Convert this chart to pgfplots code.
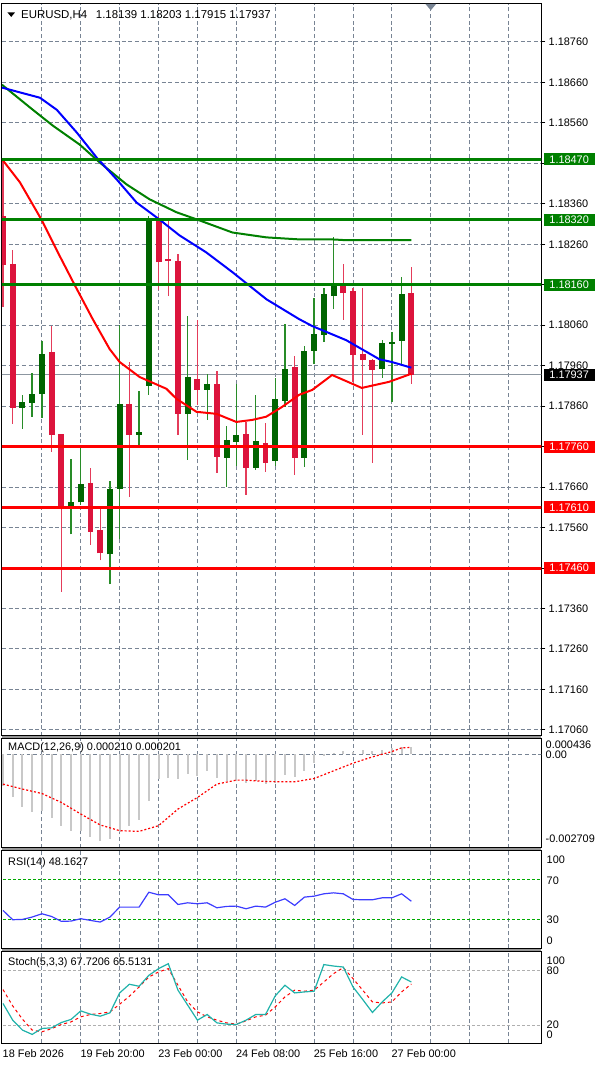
\documentclass[border=0pt]{standalone}
\usepackage{pgfplots}
\pgfplotsset{compat=1.18}
\usepackage{pgfplotstable}
\usepackage{fontspec}
\setmainfont{Liberation Sans}

\definecolor{bullbody}{RGB}{0,100,0}
\definecolor{bearbody}{RGB}{220,20,60}
\definecolor{bullwick}{RGB}{40,140,40}
\definecolor{bearwick}{RGB}{228,60,90}
\definecolor{lvlgreen}{RGB}{0,128,0}
\definecolor{lvlred}{RGB}{255,0,0}
\definecolor{gridc}{RGB}{120,132,148}
\definecolor{bidc}{RGB}{140,150,160}
\definecolor{maRed}{RGB}{255,0,0}
\definecolor{maBlue}{RGB}{0,0,255}
\definecolor{maGreen}{RGB}{0,128,0}
\definecolor{histc}{RGB}{200,200,200}
\definecolor{rsic}{RGB}{60,60,255}
\definecolor{stochc}{RGB}{32,178,170}
\definecolor{sepc}{RGB}{150,150,150}
\definecolor{lvl30}{RGB}{0,170,0}
\definecolor{stlvl}{RGB}{175,175,175}

\newcommand\mtf{\fontsize{8.2}{9.8}\selectfont}

% H4 candles, i = bar number from the left edge
\pgfplotstableread{
i  O       H       L       C
2  1.17856 1.17888 1.17804 1.17870
3  1.17868 1.17942 1.17834 1.17890
4  1.17890 1.18021 1.17831 1.17989
7  1.17612 1.17730 1.17543 1.17624
8  1.17622 1.17765 1.17617 1.17668
11 1.17494 1.17676 1.17420 1.17656
12 1.17656 1.18060 1.17533 1.17866
14 1.17789 1.17898 1.17760 1.17797
15 1.17910 1.18331 1.17888 1.18319
19 1.17841 1.18082 1.17728 1.17932
21 1.17900 1.17940 1.17826 1.17915
23 1.17732 1.17811 1.17661 1.17777
24 1.17772 1.17915 1.17713 1.17789
26 1.17708 1.17888 1.17703 1.17774
28 1.17725 1.17930 1.17713 1.17878
29 1.17873 1.18063 1.17858 1.17952
31 1.17732 1.18009 1.17710 1.17996
32 1.17996 1.18127 1.17964 1.18038
33 1.18036 1.18151 1.18018 1.18137
34 1.18132 1.18277 1.18100 1.18159
39 1.17952 1.18023 1.17930 1.18016
40 1.18013 1.18043 1.17871 1.18018
41 1.18021 1.18179 1.17962 1.18137
}\bulls

\pgfplotstableread{
i  O       H       L       C
0  1.18331 1.18467 1.18105 1.18208
1  1.18211 1.18245 1.17816 1.17856
5  1.17994 1.18058 1.17747 1.17789
6  1.17792 1.17792 1.17402 1.17607
9  1.17671 1.17708 1.17518 1.17550
10 1.17555 1.17607 1.17479 1.17496
13 1.17866 1.17969 1.17636 1.17789
16 1.18319 1.18331 1.18146 1.18215
17 1.18223 1.18321 1.18132 1.18218
18 1.18218 1.18235 1.17789 1.17841
20 1.17927 1.18073 1.17863 1.17900
22 1.17915 1.17947 1.17696 1.17735
25 1.17792 1.17821 1.17641 1.17708
27 1.17769 1.17819 1.17698 1.17720
30 1.17957 1.17984 1.17691 1.17732
35 1.18159 1.18211 1.18073 1.18139
36 1.18144 1.18151 1.17920 1.17986
37 1.17989 1.18151 1.17789 1.17974
38 1.17974 1.17976 1.17720 1.17949
42 1.18139 1.18203 1.17915 1.17937
}\bears

\pgfplotstableread{
i m
0 -0.000913
1 -0.001252
2 -0.001521
3 -0.001686
4 -0.001637
5 -0.001848
6 -0.002072
7 -0.002237
8 -0.002216
9 -0.002411
10 -0.002506
11 -0.002457
12 -0.002266
13 -0.002072
14 -0.001906
15 -0.001347
16 -0.000719
17 -0.000672
18 -0.000719
19 -0.000574
20 -0.000623
21 -0.000478
22 -0.000672
23 -0.000768
24 -0.000768
25 -0.000817
26 -0.000768
27 -0.000846
28 -0.000817
29 -0.000603
30 -0.000652
31 -0.000478
32 -0.000238
33 -0.000043
34 0.000052
35 0.000101
36 0.000081
37 0.000122
38 0.000101
39 0.000130
40 0.000180
41 0.000217
42 0.000210
}\macdhist

\pgfplotstableread{
i s
0 -0.000863
2 -0.001008
4 -0.001136
6 -0.001396
8 -0.001733
10 -0.002051
12 -0.002216
14 -0.002237
16 -0.002072
18 -0.001588
20 -0.001252
22 -0.000863
24 -0.000748
25 -0.000748
27 -0.000788
29 -0.000797
30 -0.000797
32 -0.000701
34 -0.000478
36 -0.000255
38 -0.000072
40 0.000081
41 0.000190
42 0.000201
}\macdsig

\pgfplotstableread{
i r
0 38.8
1 29.3
2 29.6
3 32.0
4 35.4
5 32.6
6 27.6
7 27.9
8 30.3
9 28.6
10 26.9
11 32.0
12 42.2
13 42.2
14 42.2
15 57.4
16 54.8
17 54.8
18 44.9
19 46.6
20 45.6
21 46.6
22 41.5
23 42.9
24 43.2
25 40.5
26 43.2
27 42.2
28 47.2
29 50.7
30 43.9
31 52.4
32 53.4
33 55.8
34 56.8
35 55.8
36 50.0
37 49.7
38 49.7
39 51.7
40 51.7
41 55.8
42 48.2
}\rsi

\pgfplotstableread{
i k d
0 43.9 59.3
1 25.4 41.2
2 14.4 26.5
3 9.6 14.4
4 16.2 12.5
5 16.9 16.0
6 22.8 20.6
7 26.2 23.5
8 35.7 29.1
9 32.0 31.7
10 29.8 32.8
11 33.5 34.6
12 55.6 43.1
13 65.2 51.9
14 63.0 62.2
15 75.1 73.3
16 82.5 78.8
17 88.0 82.5
18 58.6 64.1
19 42.0 45.6
20 25.4 34.6
21 31.7 29.1
22 22.4 25.4
23 21.0 22.4
24 20.6 21.0
25 25.4 24.6
26 31.7 29.1
27 31.7 30.9
28 52.3 40.1
29 64.1 51.2
30 55.6 58.6
31 56.7 57.5
32 57.5 58.6
33 87.0 67.7
34 85.4 77.0
35 84.3 83.6
36 62.2 71.5
37 48.3 58.6
38 33.9 45.6
39 45.6 44.5
40 55.6 45.6
41 73.3 56.7
42 67.7 65.5
}\stoch

\pgfplotsset{
  mtpanel/.style={
    scale only axis, width=405.75pt, anchor=north west,
    xmin=-0.1026, xmax=55.385,
    axis line style={black, line width=0.75pt},
    xtick={4,8,...,52}, xticklabels={}, xtick style={draw=none},
    xmajorgrids,
    grid style={gridc, line width=0.75pt, dash pattern=on 3pt off 2pt},
    ytick=\empty, scaled y ticks=false,
    tick label style={font=\mtf},
  },
  lvl/.style={line width=2.25pt, no marks, forget plot},
  wick/.style={draw=none, mark=none, forget plot,
    error bars/.cd, y dir=plus, y explicit, error mark=none,
    error bar style={draw=#1, line width=1pt, solid}},
  body/.style={draw=none, mark=none, forget plot,
    error bars/.cd, y dir=plus, y explicit, error mark=none,
    error bar style={draw=#1, line width=4.5pt, solid}},
}

\begin{document}
\begin{tikzpicture}
\begin{scope}[x=0.75pt,y=-0.75pt]
\path[use as bounding box] (0,0) rectangle (600,1065);
\fill[sepc] (2,735) rectangle (543,738);
\fill[sepc] (2,847) rectangle (543,850);
\fill[sepc] (2,948) rectangle (543,951);
\end{scope}

% ---------------- price panel ----------------
\begin{axis}[mtpanel, at={(1.5pt,-0.75pt)}, height=550.5pt,
  ymin=1.170452, ymax=1.188536,
  ytick={1.1706,1.1716,1.1726,1.1736,1.1746,1.1756,1.1766,1.1776,1.1786,1.1796,1.1806,1.1816,1.1826,1.1836,1.1846,1.1856,1.1866,1.1876},
  yticklabels={1.17060,1.17160,1.17260,1.17360,,1.17560,1.17660,,1.17860,1.17960,1.18060,,1.18260,1.18360,,1.18560,1.18660,1.18760},
  ymajorgrids, ytick pos=right, yticklabel pos=right,
  tick align=outside, major tick length=3pt,
  ytick style={black, line width=0.75pt},
  yticklabel style={anchor=west, inner sep=0pt, xshift=2.25pt},
]
\addplot[bidc, line width=0.75pt, no marks, forget plot] coordinates {(-1,1.17937) (56,1.17937)};

\addplot[wick=bullwick] table[x=i, y=L, y error plus expr=\thisrow{H}-\thisrow{L}] {\bulls};
\addplot[wick=bearwick] table[x=i, y=L, y error plus expr=\thisrow{H}-\thisrow{L}] {\bears};
\addplot[body=bullbody] table[x=i, y=O, y error plus expr=\thisrow{C}-\thisrow{O}] {\bulls};
\addplot[body=bearbody] table[x=i, y=C, y error plus expr=\thisrow{O}-\thisrow{C}] {\bears};

\addplot[maGreen, line width=1.5pt, no marks] coordinates {
(-0.1,1.18654) (3.08,1.18592) (5.13,1.18553) (7.9,1.18506) (9.95,1.18462)
(12.7,1.18408) (15.08,1.18371) (17.85,1.18339) (20.2,1.18319) (23.6,1.18289)
(27.08,1.18277) (30.46,1.18272) (33.85,1.18272) (35.3,1.18270) (42,1.18270)};
\addplot[maBlue, line width=1.5pt, no marks] coordinates {
(-0.1,1.18647) (3.8,1.18622) (5.54,1.18592) (7.59,1.18536) (9.64,1.18474)
(11.7,1.18420) (13.74,1.18363) (16.1,1.18321) (18.15,1.18282) (20.9,1.18240)
(23.6,1.18191) (27.1,1.18124) (30.46,1.18075) (31.8,1.18058) (35.3,1.18023)
(38.7,1.17976) (40,1.17969) (42,1.17955)};
\addplot[maRed, line width=1.5pt, no marks] coordinates {
(0,1.18467) (1.74,1.18413) (4,1.18319) (5.64,1.18240) (7.38,1.18159) (9.23,1.18075)
(10.97,1.18001) (12,1.17969) (14.05,1.17932) (16.8,1.17903) (17.85,1.17878)
(19.9,1.17846) (21.95,1.17841) (24,1.17821) (25.64,1.17826) (27.08,1.17834)
(28.7,1.17858) (30.46,1.17888) (31.8,1.17900) (33.85,1.17937) (36.9,1.17905)
(39.7,1.17920) (42,1.17940)};

\addplot[lvl, lvlgreen] coordinates {(-1,1.1847) (56,1.1847)};
\addplot[lvl, lvlgreen] coordinates {(-1,1.1832) (56,1.1832)};
\addplot[lvl, lvlgreen] coordinates {(-1,1.1816) (56,1.1816)};
\addplot[lvl, lvlred] coordinates {(-1,1.1776) (56,1.1776)};
\addplot[lvl, lvlred] coordinates {(-1,1.1761) (56,1.1761)};
\addplot[lvl, lvlred] coordinates {(-1,1.1746) (56,1.1746)};

\fill[gridc] (axis cs:43.45,1.188536) -- (axis cs:44.55,1.188536) -- (axis cs:44,1.18838) -- cycle;

\coordinate (p1) at (axis cs:55.385,1.1847);
\coordinate (p2) at (axis cs:55.385,1.1832);
\coordinate (p3) at (axis cs:55.385,1.1816);
\coordinate (p4) at (axis cs:55.385,1.17937);
\coordinate (p5) at (axis cs:55.385,1.1776);
\coordinate (p6) at (axis cs:55.385,1.1761);
\coordinate (p7) at (axis cs:55.385,1.1746);
\end{axis}

% ---------------- MACD ----------------
\begin{axis}[mtpanel, at={(1.5pt,-553.5pt)}, height=81.75pt,
  ymin=-0.002709, ymax=0.000449]
\addplot[gridc, line width=0.75pt, dash pattern=on 3pt off 2pt, no marks, forget plot] coordinates {(-1,0) (56,0)};
\addplot[ycomb, histc, line width=1.5pt, no marks] table[x=i, y=m] {\macdhist};
\addplot[red, line width=0.9pt, dash pattern=on 1.5pt off 1.5pt, no marks] table[x=i, y=s] {\macdsig};
\end{axis}

% ---------------- RSI ----------------
\begin{axis}[mtpanel, at={(1.5pt,-637.5pt)}, height=73.5pt,
  ymin=0, ymax=100]
\addplot[lvl30, line width=0.75pt, dash pattern=on 2.25pt off 1.5pt, no marks, forget plot] coordinates {(-1,70) (56,70)};
\addplot[lvl30, line width=0.75pt, dash pattern=on 2.25pt off 1.5pt, no marks, forget plot] coordinates {(-1,30) (56,30)};
\addplot[rsic, line width=0.9pt, no marks] table[x=i, y=r] {\rsi};
\end{axis}

% ---------------- Stochastic ----------------
\begin{axis}[mtpanel, at={(1.5pt,-713.25pt)}, height=69pt,
  ymin=0, ymax=101.7,
  xticklabels={,19 Feb 20:00,,23 Feb 00:00,,24 Feb 08:00,,25 Feb 16:00,,27 Feb 00:00,,,},
  extra x ticks={0}, extra x tick labels={18 Feb 2026},
  extra x tick style={grid=none},
  xticklabel style={anchor=north west, inner sep=0pt, yshift=-4.5pt, xshift=-0.4pt},
]
\addplot[stlvl, line width=0.75pt, dash pattern=on 2.25pt off 1.5pt, no marks, forget plot] coordinates {(-1,80) (56,80)};
\addplot[stlvl, line width=0.75pt, dash pattern=on 2.25pt off 1.5pt, no marks, forget plot] coordinates {(-1,20) (56,20)};
\addplot[red, line width=0.75pt, dash pattern=on 2.25pt off 2.25pt, no marks] table[x=i, y=d] {\stoch};
\addplot[stochc, line width=0.9pt, no marks] table[x=i, y=k] {\stoch};
\end{axis}

% ---------------- labels ----------------
\tikzset{pbox/.style={anchor=west, inner sep=0pt, minimum width=38.25pt, minimum height=9pt, text=white, font=\mtf}}
\node[pbox, fill=lvlgreen] at ([xshift=1.5pt]p1) {1.18470};
\node[pbox, fill=lvlgreen] at ([xshift=1.5pt]p2) {1.18320};
\node[pbox, fill=lvlgreen] at ([xshift=1.5pt]p3) {1.18160};
\node[pbox, fill=black] at ([xshift=1.5pt]p4) {1.17937};
\node[pbox, fill=lvlred] at ([xshift=1.5pt]p5) {1.17760};
\node[pbox, fill=lvlred] at ([xshift=1.5pt]p6) {1.17610};
\node[pbox, fill=lvlred] at ([xshift=1.5pt]p7) {1.17460};

\begin{scope}[x=0.75pt,y=-0.75pt, every node/.style={anchor=west, inner sep=0pt, font=\mtf}]
\fill[black] (7.5,9.5) -- (15,9.5) -- (11.25,14) -- cycle;
\node[font=\fontsize{8.6}{10}\selectfont] at (21,12) {EURUSD,H4\hspace{6.5pt}1.18139 1.18203 1.17915 1.17937};
\node at (8,747) {MACD(12,26,9) 0.000210 0.000201};
\node at (8,862) {RSI(14) 48.1627};
\node at (8,962.5) {Stoch(5,3,3) 67.7206 65.5131};
\node at (547,744) {0.000436};
\node at (547,753.5) {0.00};
\node at (547,838.5) {-0.002709};
\node at (548,859) {100};
\node at (548,880) {70};
\node at (548,919) {30};
\node at (548,940) {0};
\node at (548,960) {100};
\node at (548,970.5) {80};
\node at (548,1025) {20};
\node at (548,1035) {0};
\end{scope}
\end{tikzpicture}
\end{document}
